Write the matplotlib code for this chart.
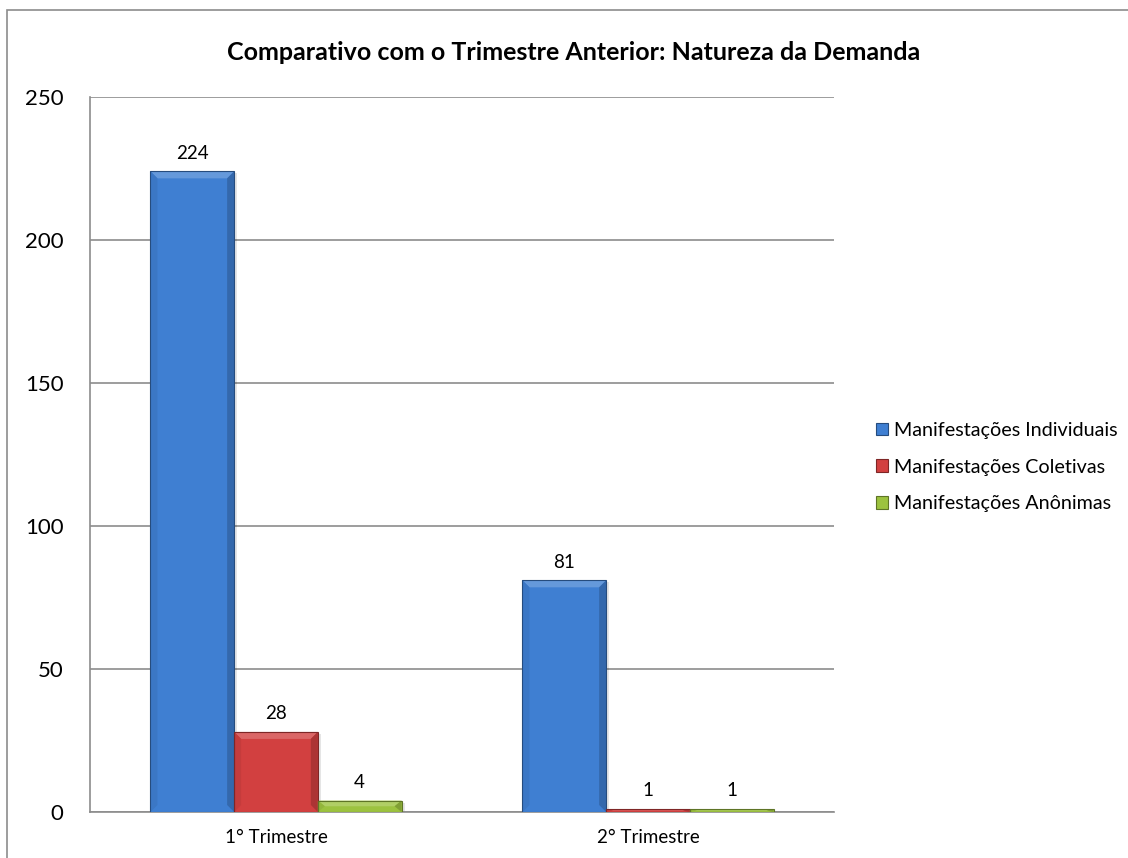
import matplotlib
matplotlib.use("Agg")
import matplotlib.pyplot as plt
from matplotlib.patches import Rectangle, Polygon
from matplotlib.colors import to_rgb
import numpy as np

plt.rcParams['font.family'] = ['Lato', 'DejaVu Sans']

categories = ["1° Trimestre", "2° Trimestre"]
series_names = ["Manifestações Individuais", "Manifestações Coletivas", "Manifestações Anônimas"]
individuais = [224, 81]
coletivas = [28, 1]
anonimas = [4, 1]
series_values = [individuais, coletivas, anonimas]
colors = ["#3f7fd2", "#d24040", "#9cc23f"]
title = "Comparativo com o Trimestre Anterior: Natureza da Demanda"
y_ticks = [0, 50, 100, 150, 200, 250]

W, H, DPI = 1128, 858, 100
fig = plt.figure(figsize=(W / DPI, H / DPI), dpi=DPI)

ax_l, ax_r, ax_b, ax_t = 90, 834, 46, 761
ax = fig.add_axes([ax_l / W, ax_b / H, (ax_r - ax_l) / W, (ax_t - ax_b) / H])
ax.set_xlim(-0.5, 1.5)
ax.set_ylim(0, 250)

bar_w = 0.225
x = np.arange(len(categories))
px_x = (ax_r - ax_l) / 2.0      # pixels per x data unit
px_y = (ax_t - ax_b) / 250.0    # pixels per y data unit


def shade(c, f):
    r, g, b = to_rgb(c)
    if f >= 1:
        return tuple(v + (1 - v) * (f - 1) for v in (r, g, b))
    return tuple(v * f for v in (r, g, b))


def bevel_bar(ax, xc, h, color):
    x0, x1 = xc - bar_w / 2, xc + bar_w / 2
    # soft shadow
    ax.add_patch(Rectangle((x0 + 3 / px_x, 0), bar_w, max(h - 2 / px_y, 0),
                           facecolor=(0, 0, 0, 0.10), edgecolor='none', zorder=2))
    ax.add_patch(Rectangle((x0, 0), bar_w, h, facecolor=color,
                           edgecolor='none', zorder=3))
    b = 7.0
    bx = b / px_x
    by = min(b / px_y, h / 2)
    # top bevel (lighter)
    ax.add_patch(Polygon([(x0, h), (x1, h), (x1 - bx, h - by), (x0 + bx, h - by)],
                         closed=True, facecolor=shade(color, 1.2), edgecolor='none', zorder=4))
    # left bevel
    ax.add_patch(Polygon([(x0, h), (x0 + bx, h - by), (x0 + bx, by), (x0, 0)],
                         closed=True, facecolor=shade(color, 0.94), edgecolor='none', zorder=4))
    # right bevel (darker)
    ax.add_patch(Polygon([(x1, h), (x1 - bx, h - by), (x1 - bx, by), (x1, 0)],
                         closed=True, facecolor=shade(color, 0.82), edgecolor='none', zorder=4))
    ax.add_patch(Rectangle((x0, 0), bar_w, h, facecolor='none',
                           edgecolor=shade(color, 0.6), linewidth=0.8, zorder=5))


for i, (vals, col) in enumerate(zip(series_values, colors)):
    offs = (i - 1) * bar_w
    for xc, v in zip(x + offs, vals):
        bevel_bar(ax, xc, v, col)
        ax.annotate(str(v), (xc, v), xytext=(0, 7), textcoords='offset points',
                    ha='center', va='bottom', fontsize=13.5, color='black')

ax.set_yticks(y_ticks)
ax.set_yticklabels([str(t) for t in y_ticks], fontsize=16)
ax.set_xticks(x)
ax.set_xticklabels(categories, fontsize=13.5)
ax.tick_params(axis='both', length=0)
ax.tick_params(axis='y', pad=19)
ax.tick_params(axis='x', pad=12)
ax.yaxis.grid(True, color='#8c8c8c', linewidth=1.2, zorder=0)
ax.set_axisbelow(True)
for s in ['top', 'right']:
    ax.spines[s].set_visible(False)
ax.spines['left'].set_color('#8c8c8c')
ax.spines['bottom'].set_color('#8c8c8c')
ax.spines['left'].set_linewidth(1.2)
ax.spines['bottom'].set_linewidth(1.2)

fig.text(574 / W, 1 - 52 / H, title, ha='center', va='center',
         fontsize=18, fontweight='bold')

handles = [Rectangle((0, 0), 1, 1, facecolor=c, edgecolor=shade(c, 0.6), linewidth=0.8)
           for c in colors]
fig.legend(handles, series_names, loc='center left',
           bbox_to_anchor=(868 / W, 1 - 467 / H), frameon=False, fontsize=14.2,
           handlelength=0.6, handleheight=0.6, handletextpad=0.3,
           labelspacing=1.0, borderaxespad=0)

# chart border (right and bottom edges lie outside the canvas)
fig.add_artist(Rectangle((7 / W, -0.05), 1.1, (H - 10) / H + 0.05, transform=fig.transFigure,
                         facecolor='none', edgecolor='#8c8c8c', linewidth=1.2))

fig.savefig("out.png", dpi=DPI)
